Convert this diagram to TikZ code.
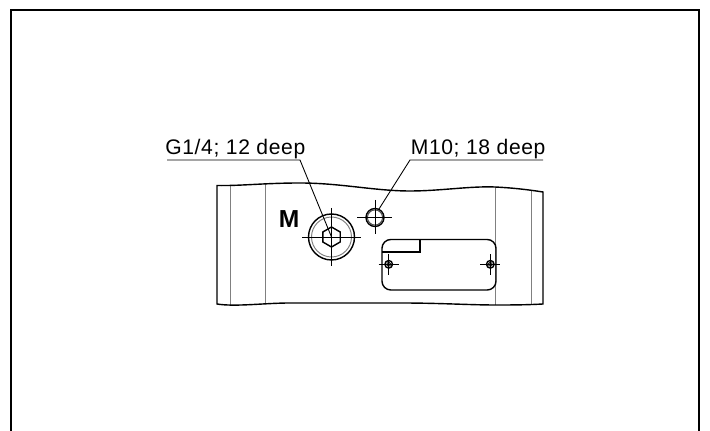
\documentclass[tikz,border=0pt]{standalone}
\usepackage{fontspec}
\setmainfont{Liberation Sans}
\newfontfamily\labelfont[LetterSpace=3]{Liberation Sans}
\usepackage{tikz}
\tikzset{
  outline/.style={black, line width=0.8pt},
  thin line/.style={black, line width=0.5pt},
  gray line/.style={black!50, line width=0.55pt},
  leader/.style={black, line width=0.5pt},
  label text/.style={inner sep=0pt, anchor=base west, font=\labelfont\fontsize{12}{14}\selectfont},
}
\begin{document}
\begin{tikzpicture}[x=0.02cm, y=-0.02cm]
\useasboundingbox (0,0) rectangle (710,431);
% frame
\draw[outline, line width=0.9pt](11,431) -- (11,10) -- (699,10) -- (699,431);
% part
\draw[gray line](230.5,185) -- (230.5,305);
\draw[gray line](265,183.5) -- (265,303);
\draw[gray line](495,187) -- (495,305);
\draw[gray line](531,190) -- (531,304);
\draw[outline](217,185.5) .. controls (240,186) and (265,183) .. (300,183) .. controls (340,183) and (375,191) .. (410,191) .. controls (440,191) and (470,186) .. (495,187) .. controls (515,188) and (530,190) .. (543,192) -- (543,304) .. controls (525,305) and (510,305) .. (495,305) .. controls (470,305) and (440,303) .. (400,303) .. controls (350,303) and (320,303) .. (290,303) .. controls (265,303) and (235,307) .. (217,304) -- cycle;
% large bore
\coordinate (bigbore) at (331.5,237);
\draw[outline] (bigbore) circle (23);
\draw[gray line] (bigbore) circle (20);
\draw[outline] (331.5,227) -- (340.2,232) -- (340.2,242) -- (331.5,247) -- (322.8,242) -- (322.8,232) -- cycle;
\draw[thin line] (302,237) -- (361,237);
\draw[thin line] (331.5,208) -- (331.5,266);
% small bore
\coordinate (smallbore) at (375,217.5);
\draw[outline] (smallbore) circle (9);
\draw[black!70, line width=0.6pt] (smallbore) circle (7.6);
\draw[thin line] (357,217.5) -- (392,217.5);
\draw[thin line] (375,200) -- (375,234);
% plate
\draw[outline, rounded corners=5] (382,239.5) rectangle (496,290);
\draw[outline] (382,252) -- (420,252) -- (420,239.5);
\coordinate (lscrew) at (388.7,264.3);
\coordinate (rscrew) at (490.3,264.3);
\foreach \s in {lscrew, rscrew} {
  \draw[outline] (\s) circle (3.8);
  \filldraw[black, line width=0.3pt, fill=black!55] (\s) circle (2);
  \draw[thin line] ([xshift=-0.2cm]\s) -- ([xshift=0.2cm]\s);
  \draw[thin line] ([yshift=-0.21cm]\s) -- ([yshift=0.21cm]\s);
}
% labels
\node[label text] (gport) at (165,154.5) {G1/4; 12 deep};
\node[label text] (mport) at (410.5,154.5) {M10; 18 deep};
\node[inner sep=0pt, font=\fontsize{14}{16}\selectfont\bfseries] (mark) at (289,219) {M};
% leaders
\coordinate (gstart) at (167,160);
\coordinate (gknee) at (300,160);
\coordinate (mstart) at (543,160);
\coordinate (mknee) at (410,160);
\coordinate (mend) at (379,209);
\draw[leader] (gstart) -- (gknee) -- (bigbore);
\draw[leader] (mstart) -- (mknee) -- (mend);
\end{tikzpicture}
\end{document}
